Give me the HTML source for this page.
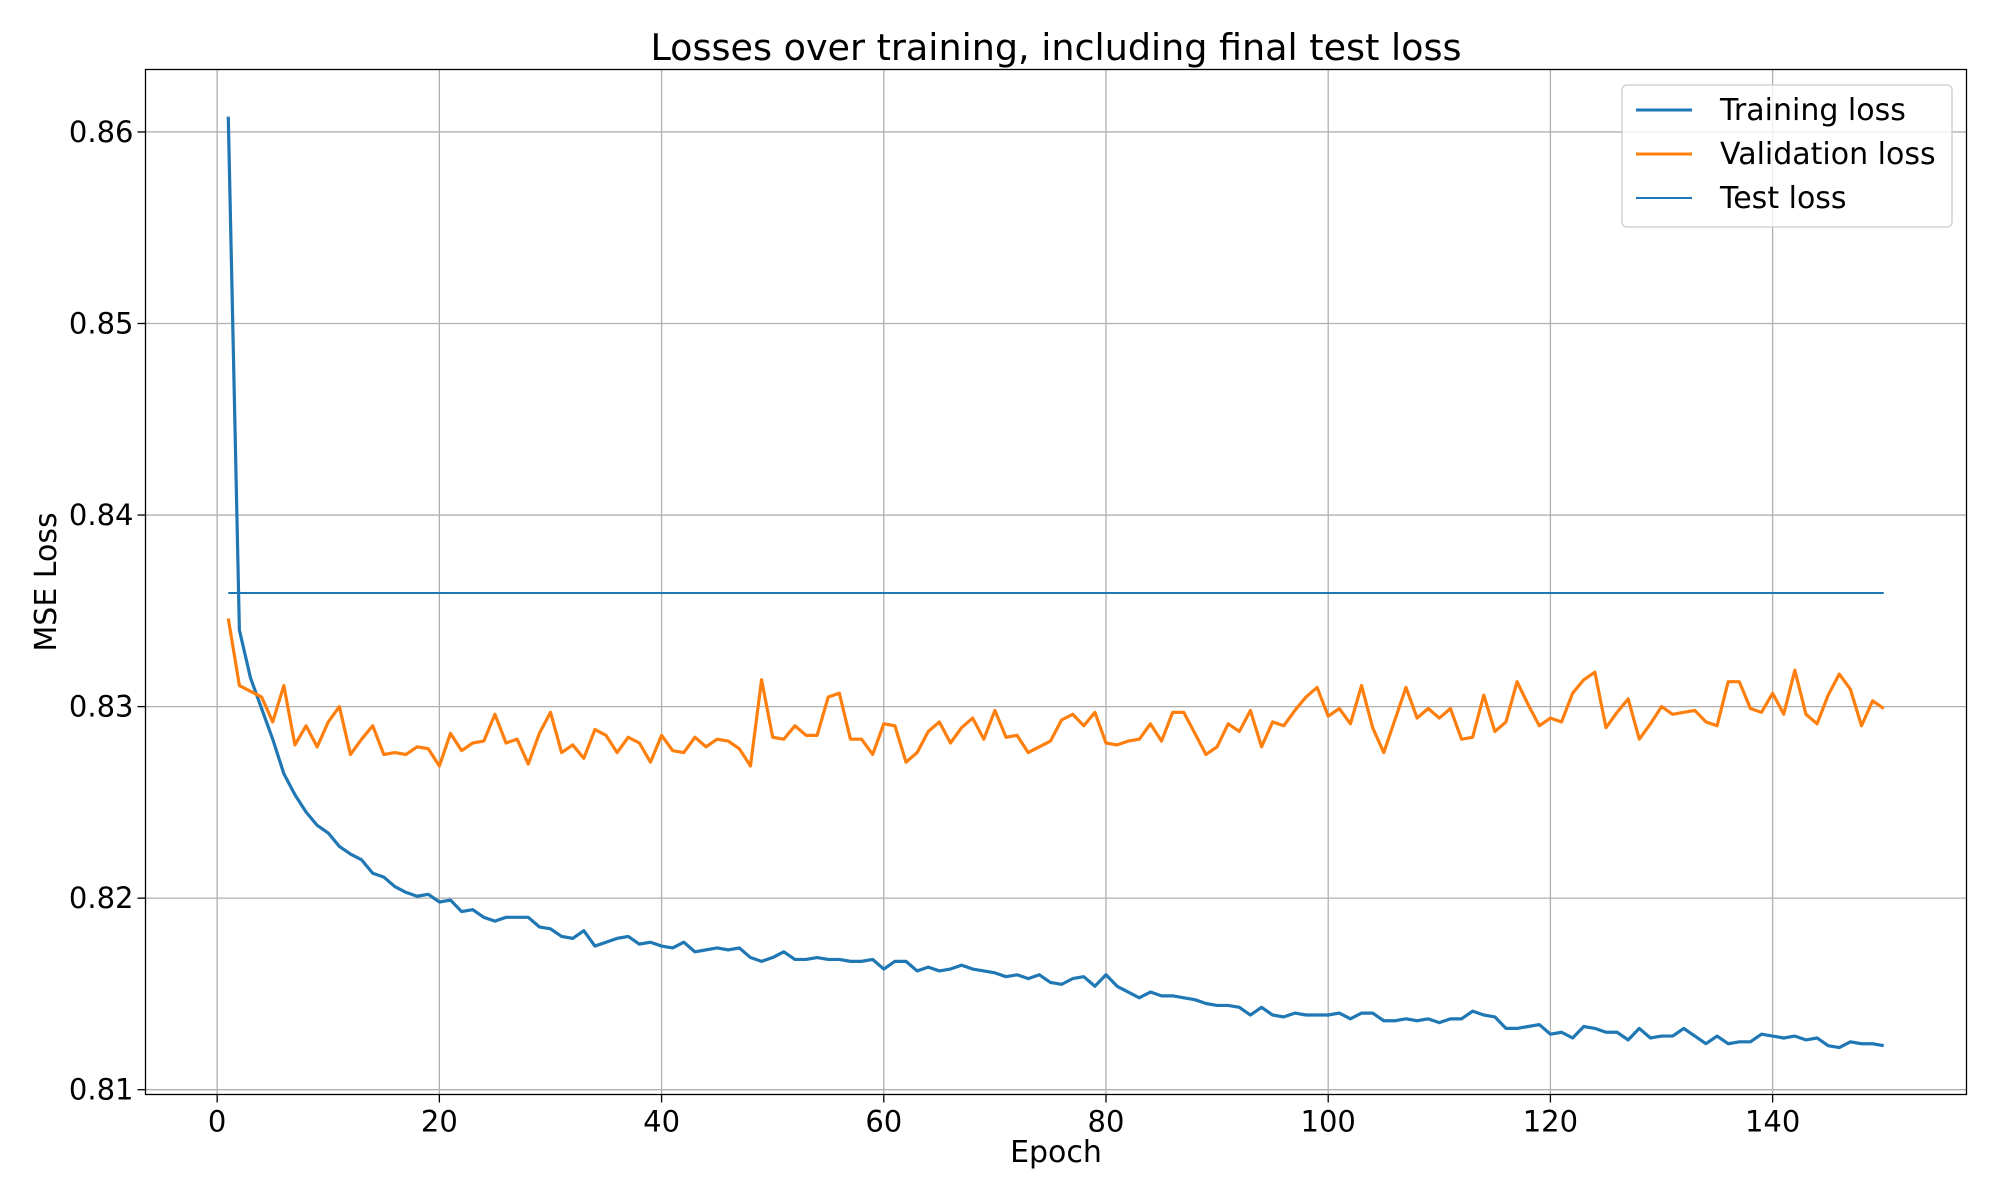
<!DOCTYPE html>
<html><head><meta charset="utf-8"><style>
html,body{margin:0;padding:0;background:#fff;}
svg{display:block;font-family:"DejaVu Sans","Liberation Sans",sans-serif;}
</style></head><body>
<svg id="chart" width="2000" height="1200" viewBox="0 0 2000 1200" xmlns="http://www.w3.org/2000/svg">
<rect width="2000" height="1200" fill="#fff"/>
<g id="grid"></g>
<g id="series"></g>
<rect x="145.5" y="69.5" width="1821" height="1025" fill="none" stroke="#000" stroke-width="1.3"/>
<g id="ticks"></g>
<text x="1056" y="60" font-size="36.5" text-anchor="middle">Losses over training, including final test loss</text>
<text x="1056" y="1162" font-size="30" text-anchor="middle">Epoch</text>
<text x="0" y="0" font-size="30" text-anchor="middle" transform="translate(56,582) rotate(-90)">MSE Loss</text>
<g>
<rect x="1622" y="85" width="330" height="142" rx="5" fill="#fff" fill-opacity="0.8" stroke="#ccc" stroke-width="1.3"/>
<g><line x1="1636" y1="110" x2="1692" y2="110" stroke="#1f77b4" stroke-width="3"/><text x="1720" y="120" font-size="30">Training loss</text></g>
<g><line x1="1636" y1="154" x2="1692" y2="154" stroke="#ff7f0e" stroke-width="3"/><text x="1720" y="164" font-size="30">Validation loss</text></g>
<g><line x1="1636" y1="198" x2="1692" y2="198" stroke="#1f77b4" stroke-width="2"/><text x="1720" y="208" font-size="30">Test loss</text></g>
</g>
</svg>
<script>
const training = [0.8608,0.8340,0.8315,0.8299,0.8283,0.8265,0.8254,0.8245,0.8238,0.8234,0.8227,0.8223,0.8220,0.8213,0.8211,0.8206,0.8203,0.8201,0.8202,0.8198,
0.8199,0.8193,0.8194,0.8190,0.8188,0.8190,0.8190,0.8190,0.8185,0.8184,0.8180,0.8179,0.8183,0.8175,0.8177,0.8179,0.8180,0.8176,0.8177,0.8175,
0.8174,0.8177,0.8172,0.8173,0.8174,0.8173,0.8174,0.8169,0.8167,0.8169,0.8172,0.8168,0.8168,0.8169,0.8168,0.8168,0.8167,0.8167,0.8168,0.8163,
0.8167,0.8167,0.8162,0.8164,0.8162,0.8163,0.8165,0.8163,0.8162,0.8161,0.8159,0.8160,0.8158,0.8160,0.8156,0.8155,0.8158,0.8159,0.8154,0.8160,
0.8154,0.8151,0.8148,0.8151,0.8149,0.8149,0.8148,0.8147,0.8145,0.8144,0.8144,0.8143,0.8139,0.8143,0.8139,0.8138,0.8140,0.8139,0.8139,0.8139,
0.8140,0.8137,0.8140,0.8140,0.8136,0.8136,0.8137,0.8136,0.8137,0.8135,0.8137,0.8137,0.8141,0.8139,0.8138,0.8132,0.8132,0.8133,0.8134,0.8129,
0.8130,0.8127,0.8133,0.8132,0.8130,0.8130,0.8126,0.8132,0.8127,0.8128,0.8128,0.8132,0.8128,0.8124,0.8128,0.8124,0.8125,0.8125,0.8129,0.8128,
0.8127,0.8128,0.8126,0.8127,0.8123,0.8122,0.8125,0.8124,0.8124,0.8123];
const validation = [0.8346,0.8311,0.8308,0.8305,0.8292,0.8311,0.8280,0.8290,0.8279,0.8292,0.8300,0.8275,0.8283,0.8290,0.8275,0.8276,0.8275,0.8279,0.8278,0.8269,
0.8286,0.8277,0.8281,0.8282,0.8296,0.8281,0.8283,0.8270,0.8286,0.8297,0.8276,0.8280,0.8273,0.8288,0.8285,0.8276,0.8284,0.8281,0.8271,0.8285,
0.8277,0.8276,0.8284,0.8279,0.8283,0.8282,0.8278,0.8269,0.8314,0.8284,0.8283,0.8290,0.8285,0.8285,0.8305,0.8307,0.8283,0.8283,0.8275,0.8291,
0.8290,0.8271,0.8276,0.8287,0.8292,0.8281,0.8289,0.8294,0.8283,0.8298,0.8284,0.8285,0.8276,0.8279,0.8282,0.8293,0.8296,0.8290,0.8297,0.8281,
0.8280,0.8282,0.8283,0.8291,0.8282,0.8297,0.8297,0.8286,0.8275,0.8279,0.8291,0.8287,0.8298,0.8279,0.8292,0.8290,0.8298,0.8305,0.8310,0.8295,
0.8299,0.8291,0.8311,0.8289,0.8276,0.8293,0.8310,0.8294,0.8299,0.8294,0.8299,0.8283,0.8284,0.8306,0.8287,0.8292,0.8313,0.8301,0.8290,0.8294,
0.8292,0.8307,0.8314,0.8318,0.8289,0.8297,0.8304,0.8283,0.8291,0.8300,0.8296,0.8297,0.8298,0.8292,0.8290,0.8313,0.8313,0.8299,0.8297,0.8307,
0.8296,0.8319,0.8296,0.8291,0.8306,0.8317,0.8309,0.8290,0.8303,0.8299];
const testLoss = [0.83593];
const xTicks = [0,20,40,60,80,100,120,140];
const yTicks = [0.81,0.82,0.83,0.84,0.85,0.86];
const yTickLabels = ["0.81","0.82","0.83","0.84","0.85","0.86"];

const NS = "http://www.w3.org/2000/svg";
const X0=145.5, X1=1966.5, Y0=1094.5, Y1=69.5;
const xMin=-6.45, xMax=157.45, yMin=0.80975, yMax=0.86326;
function xs(v){return X0+(v-xMin)/(xMax-xMin)*(X1-X0);}
function ys(v){return Y0-(v-yMin)/(yMax-yMin)*(Y0-Y1);}
function mk(tag, attrs, parent){const e=document.createElementNS(NS,tag);for(const k in attrs)e.setAttribute(k,attrs[k]);parent.appendChild(e);return e;}

const grid=document.getElementById('grid'), ticks=document.getElementById('ticks'), series=document.getElementById('series');
xTicks.forEach(t=>{
  const x=xs(t);
  const g=mk('line',{x1:x,y1:Y1,x2:x,y2:Y0,stroke:'#b0b0b0','stroke-width':1.3},grid);
  
  
  const tk=mk('line',{x1:x,y1:Y0,x2:x,y2:Y0+8,stroke:'#000','stroke-width':1.3},ticks);
  
  
  const lb=mk('text',{x:x,y:Y0+37,'font-size':29,'text-anchor':'middle'},ticks);
  lb.textContent=String(t);
  
  
});
yTicks.forEach((t,i)=>{
  const y=ys(t);
  const g=mk('line',{x1:X0,y1:y,x2:X1,y2:y,stroke:'#b0b0b0','stroke-width':1.3},grid);
  
  
  const tk=mk('line',{x1:X0-8,y1:y,x2:X0,y2:y,stroke:'#000','stroke-width':1.3},ticks);
  
  
  const lb=mk('text',{x:X0-12,y:y+10,'font-size':29,'text-anchor':'end'},ticks);
  lb.textContent=yTickLabels[i];
  
  
});
function pts(arr){return arr.map((v,i)=>xs(i+1).toFixed(2)+','+ys(v).toFixed(2)).join(' ');}
const tl=mk('polyline',{points:pts(training),fill:'none',stroke:'#1f77b4','stroke-width':3.2,'stroke-linejoin':'round'},series);


const vl=mk('polyline',{points:pts(validation),fill:'none',stroke:'#ff7f0e','stroke-width':3.2,'stroke-linejoin':'round'},series);


const te=mk('line',{x1:xs(1),y1:ys(testLoss[0]),x2:xs(training.length),y2:ys(testLoss[0]),stroke:'#1f77b4','stroke-width':2},series);


</script>
</body></html>
